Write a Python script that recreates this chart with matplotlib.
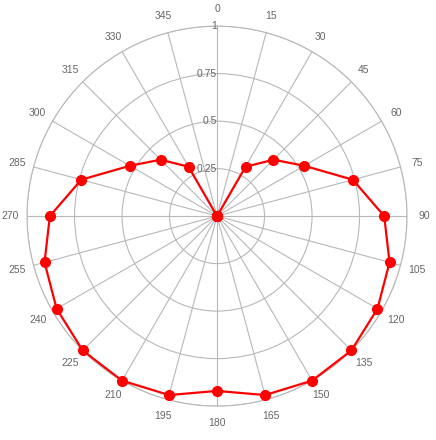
import numpy as np
import matplotlib

matplotlib.use("Agg")
import matplotlib.pyplot as plt

plt.rcParams["font.family"] = ["Liberation Sans", "DejaVu Sans"]

# polar data, degrees clockwise from north
angles_deg = [0, 15, 30, 45, 60, 75, 90, 105, 120, 135, 150, 165, 180,
              195, 210, 225, 240, 255, 270, 285, 300, 315, 330, 345, 360]
values = [0.0, 0.0, 0.30, 0.42, 0.53, 0.74, 0.88, 0.94, 0.975, 1.0, 1.0, 0.975, 0.92,
          0.975, 1.0, 1.0, 0.975, 0.94, 0.88, 0.74, 0.53, 0.42, 0.30, 0.0, 0.0]
theta_ticks = list(range(0, 360, 15))
r_ticks = [0.25, 0.5, 0.75, 1]
r_labels = ["0.25", "0.5", "0.75", "1"]

grid_col = "#b8b8b8"
text_col = "#666666"

fig = plt.figure(figsize=(4.36, 4.40), dpi=100)
ax = fig.add_axes([0.062, 0.077, 0.8716, 0.8636], projection="polar")
ax.set_theta_zero_location("N")
ax.set_theta_direction(-1)
ax.set_ylim(0, 1)

ax.set_thetagrids(theta_ticks, [""] * len(theta_ticks))
ax.set_rgrids(r_ticks, [""] * len(r_ticks))
ax.grid(True, color=grid_col, linewidth=0.8)
ax.spines["polar"].set_color(grid_col)
ax.spines["polar"].set_linewidth(0.8)

# angle labels sit on a fixed ring just outside the plot
for t in theta_ticks:
    ax.text(np.deg2rad(t), 1.09, str(t), ha="center", va="center",
            fontsize=7.5, color=text_col, clip_on=False)

# radial labels along the 0 line, right aligned
for r, lab in zip(r_ticks, r_labels):
    ax.text(0, r, lab, ha="right", va="center", fontsize=7.5, color=text_col)

th = np.deg2rad(angles_deg)
ax.plot(th, values, color="#ff0000", linewidth=1.6, marker="o", markersize=7,
        clip_on=False, zorder=5)

fig.savefig("out.png", dpi=100)
